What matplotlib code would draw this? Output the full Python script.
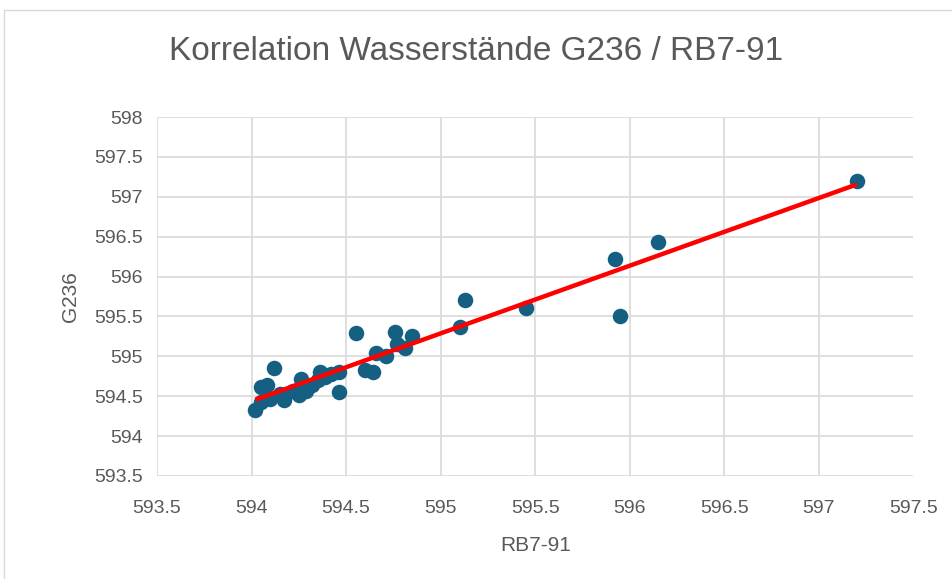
import numpy as np
import matplotlib.pyplot as plt
from matplotlib.patches import Rectangle

# Wasserstände (m ü. NN)
rb7_91 = [597.20, 596.15, 595.92, 595.95, 595.45, 595.13, 595.10, 594.55,
          594.76, 594.85, 594.77, 594.81, 594.66, 594.71, 594.60, 594.64,
          594.46, 594.46, 594.36, 594.39, 594.42, 594.35, 594.26, 594.29,
          594.25, 594.17, 594.15, 594.12, 594.08, 594.05, 594.10, 594.02,
          594.05, 594.22, 594.32]
g236 = [597.20, 596.43, 596.22, 595.51, 595.61, 595.71, 595.37, 595.29,
        595.30, 595.26, 595.16, 595.10, 595.04, 595.01, 594.83, 594.80,
        594.80, 594.55, 594.80, 594.74, 594.78, 594.70, 594.72, 594.57,
        594.51, 594.45, 594.53, 594.85, 594.64, 594.62, 594.47, 594.33,
        594.43, 594.57, 594.64]

title = "Korrelation Wasserstände G236 / RB7-91"
xticks = [593.5, 594, 594.5, 595, 595.5, 596, 596.5, 597, 597.5]
yticks = [593.5, 594, 594.5, 595, 595.5, 596, 596.5, 597, 597.5, 598]

plt.rcParams['font.family'] = ['Liberation Sans', 'DejaVu Sans']
grey = '#595959'

fig = plt.figure(figsize=(9.53, 5.79), dpi=100)
fig.patches.append(Rectangle((4 / 953, -0.01), 1.1, 1 - 10 / 579 + 0.01,
                             transform=fig.transFigure, fill=False,
                             edgecolor='#d9d9d9', linewidth=1))

ax = fig.add_axes([157 / 953, 1 - 476 / 579, (913.5 - 157) / 953, (476 - 117) / 579])
ax.scatter(rb7_91, g236, s=125, color='#156082', zorder=3, linewidths=0)

# lineare Trendlinie
k, d = np.polyfit(rb7_91, g236, 1)
xs = np.array([min(rb7_91), max(rb7_91)])
ax.plot(xs, k * xs + d, color='#ff0000', linewidth=3.2, zorder=4, solid_capstyle='butt')

ax.set_xlim(593.5, 597.5)
ax.set_ylim(593.5, 598)
ax.set_xticks(xticks)
ax.set_yticks(yticks)
ax.set_xticklabels([f"{v:g}" for v in xticks])
ax.set_yticklabels([f"{v:g}" for v in yticks])
ax.grid(True, color='#d9d9d9', linewidth=1.2)
ax.set_axisbelow(True)
for s in ax.spines.values():
    s.set_visible(False)
ax.tick_params(length=0, labelsize=14, colors=grey)
ax.tick_params(axis='x', pad=17)
ax.tick_params(axis='y', pad=10)
ax.set_xlabel("RB7-91", fontsize=15, color=grey, labelpad=14)
ax.set_ylabel("G236", fontsize=15, color=grey, labelpad=10)

fig.text(0.5, 1 - 52 / 579, title, ha='center', va='center', fontsize=24, color=grey)

fig.savefig("out.png", dpi=100)
